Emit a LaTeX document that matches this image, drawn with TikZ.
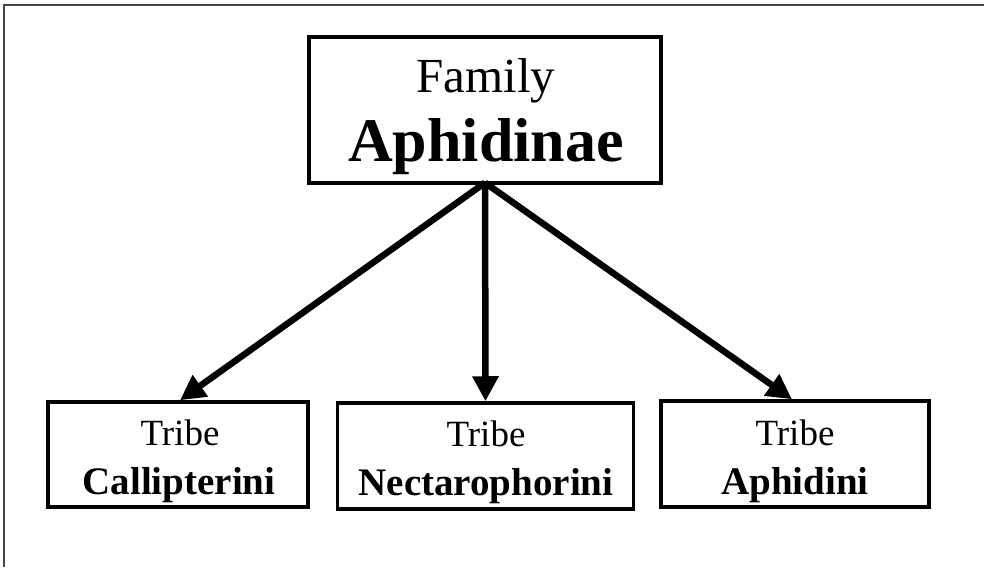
\documentclass[tikz,border=0pt]{standalone}
\usepackage{fontspec}
\setmainfont{Liberation Serif}
\usetikzlibrary{arrows.meta}
\begin{document}
\begin{tikzpicture}[x=1pt,y=-1pt,
  taxbox/.style={draw=black,line width=3.5pt,fill=white,inner sep=0pt},
  rank/.style={anchor=base,inner sep=0pt},
  link/.style={line width=6.5pt,-{Triangle[length=25pt,width=25pt]}}]
  \useasboundingbox (0,0) rectangle (984,567);
  % outer frame
  \draw[line width=1.6pt,draw={rgb,255:red,70;green,70;blue,70}] (4,567) -- (4,5) -- (984,5);
  % boxes
  \node[taxbox,minimum width=352pt,minimum height=146pt] (fam) at (485,110) {};
  \node[taxbox,minimum width=260pt,minimum height=105pt] (calli) at (178,454.5) {};
  \node[taxbox,minimum width=296pt,minimum height=106pt] (necta) at (485.5,456) {};
  \node[taxbox,minimum width=268pt,minimum height=106pt] (aphi) at (795,454) {};
  % labels
  \node[rank,font=\fontsize{49}{52}\selectfont] (famA) at (486,92.5) {Family};
  \node[rank,font=\bfseries\fontsize{62}{64}\selectfont] (famB) at (486,161) {Aphidinae};
  \node[rank,font=\fontsize{37}{40}\selectfont] (calliA) at (180,445) {Tribe};
  \node[rank,font=\bfseries\fontsize{39}{40}\selectfont] (calliB) at (179,494) {Callipterini};
  \node[rank,font=\fontsize{37}{40}\selectfont] (nectaA) at (486,446) {Tribe};
  \node[rank,font=\bfseries\fontsize{39}{40}\selectfont] (nectaB) at (486,495) {Nectarophorini};
  \node[rank,font=\fontsize{37}{40}\selectfont] (aphiA) at (795,445) {Tribe};
  \node[rank,font=\bfseries\fontsize{39}{40}\selectfont] (aphiB) at (795,494) {Aphidini};
  % connectors
  \coordinate (src) at ([yshift=2pt]fam.south);
  \draw[link] (src) -- ([xshift=2pt]calli.north);
  \draw[link] (src) -- (necta.north);
  \draw[link] (src) -- ([xshift=-3pt]aphi.north);
\end{tikzpicture}
\end{document}
